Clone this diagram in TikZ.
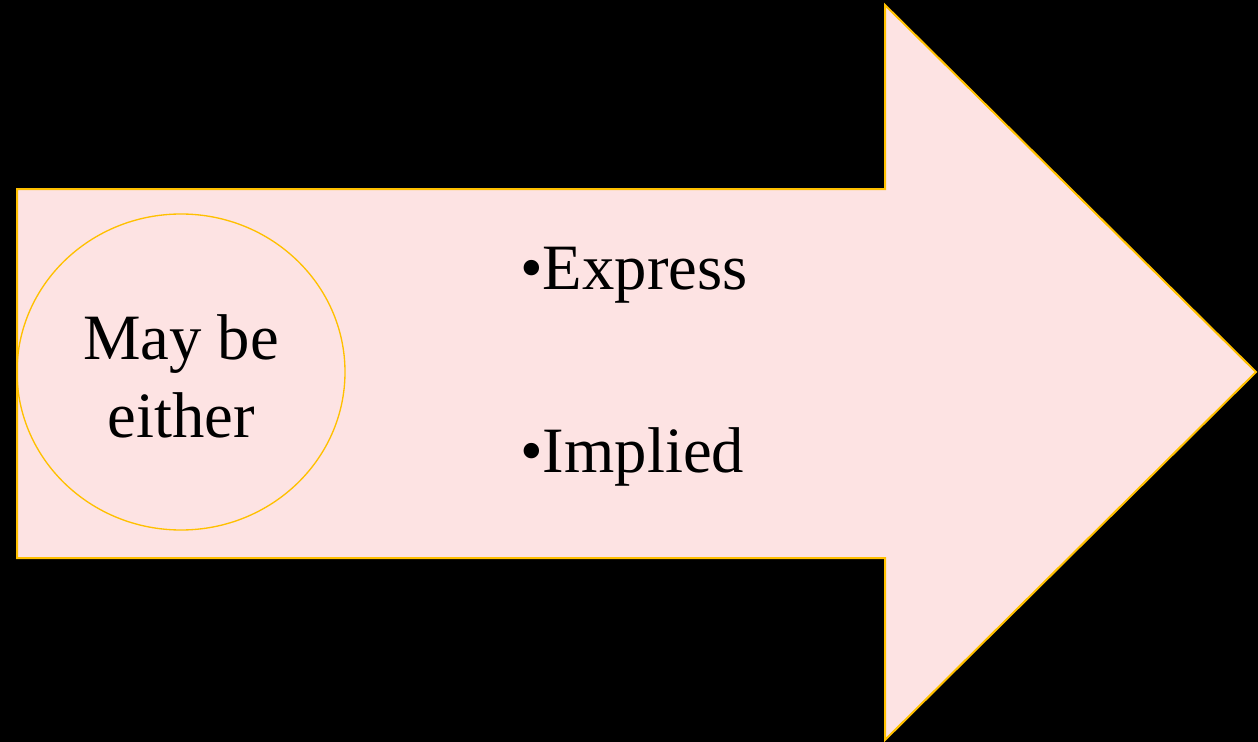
\documentclass[tikz,border=0pt]{standalone}
\usepackage{fontspec}
\usetikzlibrary{shapes.geometric}
\setmainfont{Liberation Serif}
\definecolor{fillpink}{HTML}{FDE3E3}
\definecolor{edgegold}{HTML}{FFC000}
\begin{document}
\begin{tikzpicture}[x=0.75pt,y=-0.75pt,
  label/.style={font=\fontsize{48.5}{58}\selectfont, text=black, inner sep=0pt},
  shapeedge/.style={draw=edgegold, line width=1.5pt}]
\fill[black] (0,0) rectangle (1258,742);
\useasboundingbox (0,0) rectangle (1258,742);
\path[shapeedge, fill=fillpink] (17,189) -- (885,189) -- (885,5) -- (1256,372) -- (885,740) -- (885,558) -- (17,558) -- cycle;
\node[draw=edgegold, line width=1pt, ellipse, minimum width=328*0.75pt, minimum height=316*0.75pt, inner sep=0pt] (circ) at (181,372) {};
\node[label, align=center, anchor=base] (either) at (181,437) {May be\\either};
\node[label, anchor=base west] (express) at (520,289) {\textbullet Express};
\node[label, anchor=base west] (implied) at (520,472) {\textbullet Implied};
\end{tikzpicture}
\end{document}
